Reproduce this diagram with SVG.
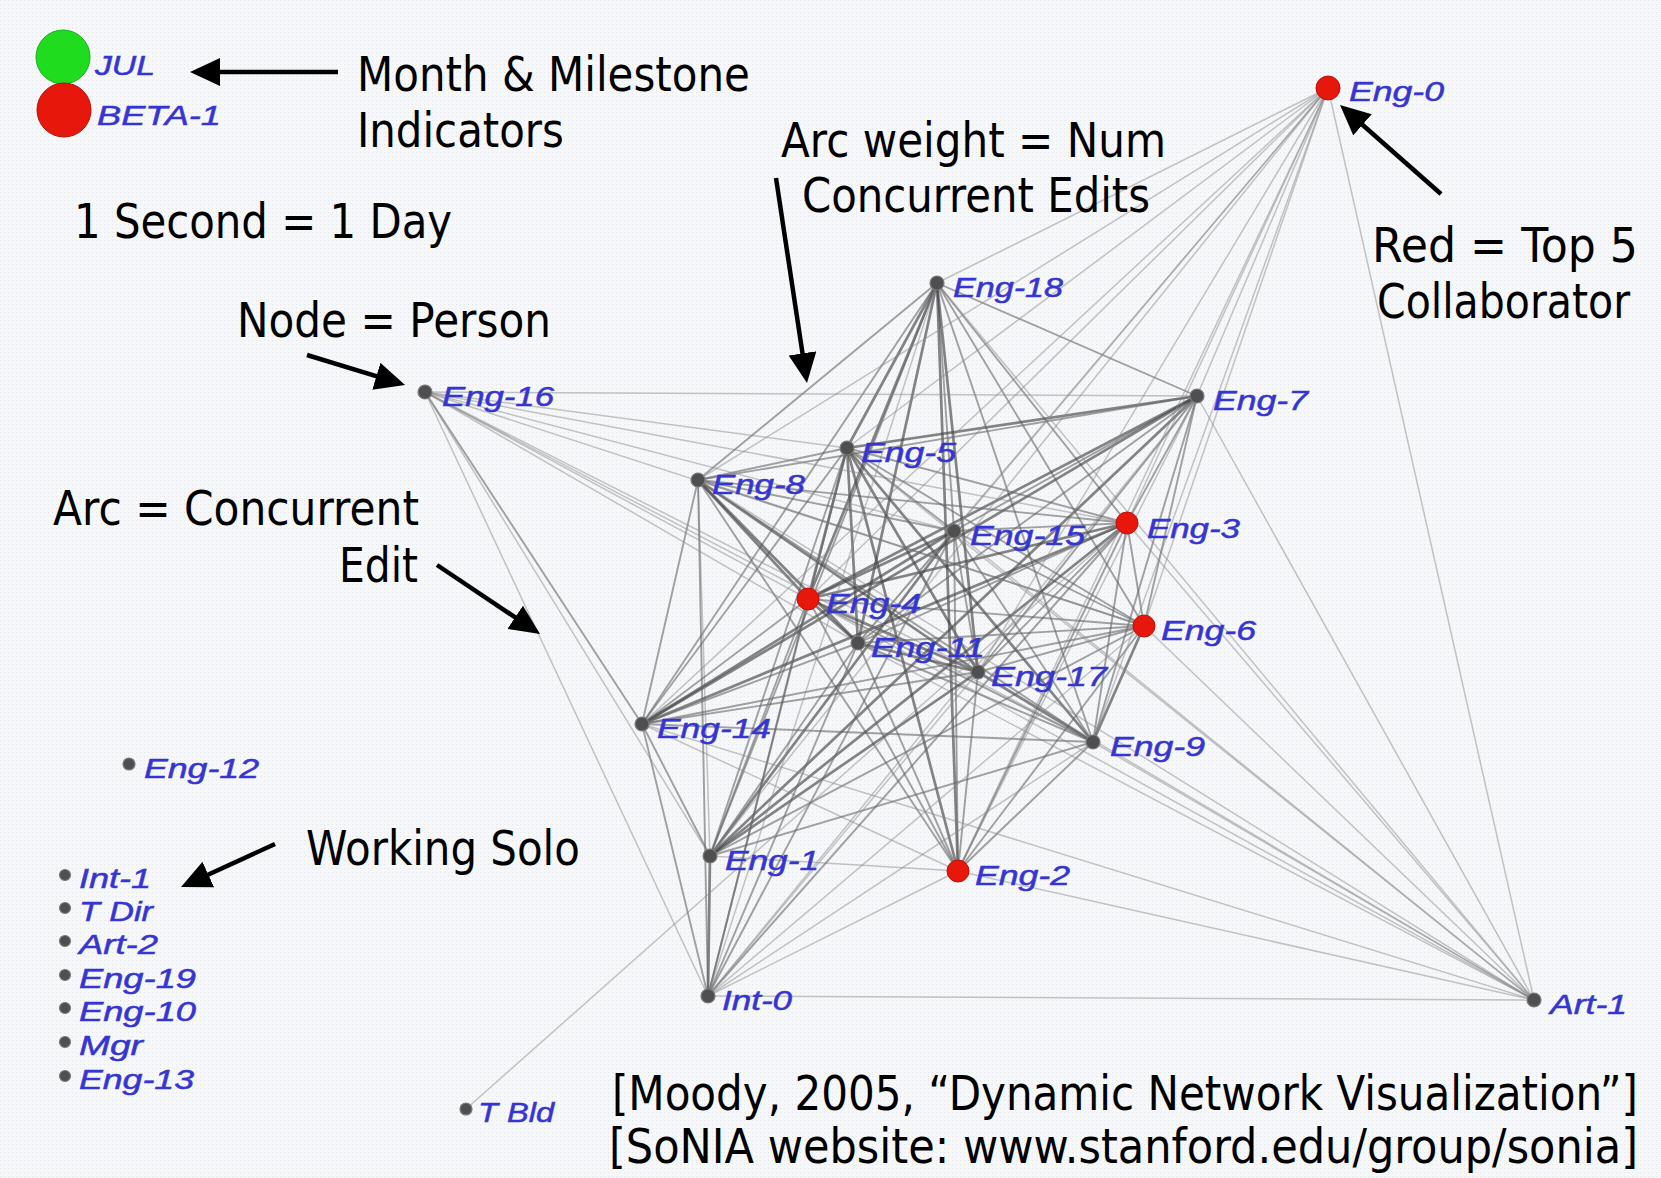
<svg xmlns="http://www.w3.org/2000/svg" width="1661" height="1178" viewBox="0 0 1661 1178">
<defs>
<style>
.m{stroke:#656565;stroke-width:1.9;stroke-opacity:.6;fill:none}
.h{stroke:#474747;stroke-width:2.7;stroke-opacity:.66;fill:none}
.l{stroke:#888;stroke-width:1.5;stroke-opacity:.48;fill:none}
.n{fill:#4f4f4f;stroke:#7a7a7a;stroke-width:1.2}
.r{fill:#e8170c;stroke:#c01008;stroke-width:1}
.lab{font-family:"Liberation Sans",Arial,sans-serif;font-style:italic;font-size:27px;fill:#3535d4;stroke:#3535d4;stroke-width:0.5}
.ann{font-family:"DejaVu Sans",Verdana,sans-serif;font-size:48px;fill:#000}
.arr{stroke:#000;stroke-width:4.5;fill:none;marker-end:url(#ah)}
</style>
<marker id="ah" viewBox="0 0 30 28" refX="22" refY="14" markerWidth="30" markerHeight="28" markerUnits="userSpaceOnUse" orient="auto">
<path d="M0,0 L30,14 L0,28 z" fill="#000"/>
</marker>
<pattern id="dots" width="4" height="4" patternUnits="userSpaceOnUse">
<rect width="4" height="4" fill="#f6f7f9"/>
<rect width="1" height="1" fill="#e3e5ea"/>
</pattern>
</defs>
<rect width="1661" height="1178" fill="url(#dots)"/>

<g id="connectors">
<line class="m" x1="937" y1="283" x2="1197" y2="396"/>
<line class="h" x1="937" y1="283" x2="847" y2="448"/>
<line class="m" x1="937" y1="283" x2="698" y2="480"/>
<line class="m" x1="937" y1="283" x2="954" y2="531"/>
<line class="m" x1="937" y1="283" x2="1127" y2="523"/>
<line class="h" x1="937" y1="283" x2="808" y2="599"/>
<line class="m" x1="937" y1="283" x2="1144" y2="626"/>
<line class="h" x1="937" y1="283" x2="858" y2="643"/>
<line class="h" x1="937" y1="283" x2="978" y2="672"/>
<line class="m" x1="937" y1="283" x2="642" y2="724"/>
<line class="m" x1="937" y1="283" x2="1093" y2="742"/>
<line class="m" x1="937" y1="283" x2="710" y2="856"/>
<line class="h" x1="937" y1="283" x2="958" y2="871"/>
<line class="h" x1="1197" y1="396" x2="847" y2="448"/>
<line class="m" x1="1197" y1="396" x2="698" y2="480"/>
<line class="m" x1="1197" y1="396" x2="954" y2="531"/>
<line class="m" x1="1197" y1="396" x2="1127" y2="523"/>
<line class="h" x1="1197" y1="396" x2="808" y2="599"/>
<line class="m" x1="1197" y1="396" x2="1144" y2="626"/>
<line class="m" x1="1197" y1="396" x2="858" y2="643"/>
<line class="m" x1="1197" y1="396" x2="978" y2="672"/>
<line class="h" x1="1197" y1="396" x2="642" y2="724"/>
<line class="m" x1="1197" y1="396" x2="1093" y2="742"/>
<line class="h" x1="1197" y1="396" x2="710" y2="856"/>
<line class="l" x1="1197" y1="396" x2="958" y2="871"/>
<line class="m" x1="847" y1="448" x2="698" y2="480"/>
<line class="m" x1="847" y1="448" x2="954" y2="531"/>
<line class="m" x1="847" y1="448" x2="1127" y2="523"/>
<line class="h" x1="847" y1="448" x2="808" y2="599"/>
<line class="m" x1="847" y1="448" x2="1144" y2="626"/>
<line class="h" x1="847" y1="448" x2="858" y2="643"/>
<line class="h" x1="847" y1="448" x2="978" y2="672"/>
<line class="m" x1="847" y1="448" x2="642" y2="724"/>
<line class="h" x1="847" y1="448" x2="1093" y2="742"/>
<line class="m" x1="847" y1="448" x2="710" y2="856"/>
<line class="h" x1="847" y1="448" x2="958" y2="871"/>
<line class="m" x1="698" y1="480" x2="954" y2="531"/>
<line class="m" x1="698" y1="480" x2="1127" y2="523"/>
<line class="h" x1="698" y1="480" x2="808" y2="599"/>
<line class="m" x1="698" y1="480" x2="1144" y2="626"/>
<line class="h" x1="698" y1="480" x2="858" y2="643"/>
<line class="h" x1="698" y1="480" x2="978" y2="672"/>
<line class="m" x1="698" y1="480" x2="642" y2="724"/>
<line class="m" x1="698" y1="480" x2="1093" y2="742"/>
<line class="l" x1="698" y1="480" x2="710" y2="856"/>
<line class="m" x1="698" y1="480" x2="958" y2="871"/>
<line class="m" x1="954" y1="531" x2="1127" y2="523"/>
<line class="h" x1="954" y1="531" x2="808" y2="599"/>
<line class="m" x1="954" y1="531" x2="1144" y2="626"/>
<line class="m" x1="954" y1="531" x2="858" y2="643"/>
<line class="m" x1="954" y1="531" x2="978" y2="672"/>
<line class="h" x1="954" y1="531" x2="642" y2="724"/>
<line class="m" x1="954" y1="531" x2="1093" y2="742"/>
<line class="h" x1="954" y1="531" x2="710" y2="856"/>
<line class="m" x1="954" y1="531" x2="958" y2="871"/>
<line class="h" x1="1127" y1="523" x2="808" y2="599"/>
<line class="m" x1="1127" y1="523" x2="1144" y2="626"/>
<line class="m" x1="1127" y1="523" x2="858" y2="643"/>
<line class="m" x1="1127" y1="523" x2="978" y2="672"/>
<line class="h" x1="1127" y1="523" x2="642" y2="724"/>
<line class="m" x1="1127" y1="523" x2="1093" y2="742"/>
<line class="h" x1="1127" y1="523" x2="710" y2="856"/>
<line class="m" x1="1127" y1="523" x2="958" y2="871"/>
<line class="m" x1="808" y1="599" x2="1144" y2="626"/>
<line class="h" x1="808" y1="599" x2="858" y2="643"/>
<line class="h" x1="808" y1="599" x2="978" y2="672"/>
<line class="m" x1="808" y1="599" x2="642" y2="724"/>
<line class="m" x1="808" y1="599" x2="1093" y2="742"/>
<line class="m" x1="808" y1="599" x2="710" y2="856"/>
<line class="m" x1="808" y1="599" x2="958" y2="871"/>
<line class="m" x1="1144" y1="626" x2="858" y2="643"/>
<line class="m" x1="1144" y1="626" x2="978" y2="672"/>
<line class="m" x1="1144" y1="626" x2="642" y2="724"/>
<line class="h" x1="1144" y1="626" x2="1093" y2="742"/>
<line class="m" x1="1144" y1="626" x2="710" y2="856"/>
<line class="m" x1="1144" y1="626" x2="958" y2="871"/>
<line class="h" x1="858" y1="643" x2="978" y2="672"/>
<line class="m" x1="858" y1="643" x2="642" y2="724"/>
<line class="m" x1="858" y1="643" x2="1093" y2="742"/>
<line class="m" x1="858" y1="643" x2="710" y2="856"/>
<line class="m" x1="858" y1="643" x2="958" y2="871"/>
<line class="m" x1="978" y1="672" x2="642" y2="724"/>
<line class="h" x1="978" y1="672" x2="1093" y2="742"/>
<line class="h" x1="978" y1="672" x2="710" y2="856"/>
<line class="m" x1="978" y1="672" x2="958" y2="871"/>
<line class="m" x1="642" y1="724" x2="1093" y2="742"/>
<line class="m" x1="642" y1="724" x2="710" y2="856"/>
<line class="l" x1="642" y1="724" x2="958" y2="871"/>
<line class="m" x1="1093" y1="742" x2="710" y2="856"/>
<line class="m" x1="1093" y1="742" x2="958" y2="871"/>
<line class="l" x1="710" y1="856" x2="958" y2="871"/>
<line class="m" x1="708" y1="996" x2="642" y2="724"/>
<line class="h" x1="708" y1="996" x2="710" y2="856"/>
<line class="m" x1="708" y1="996" x2="698" y2="480"/>
<line class="m" x1="708" y1="996" x2="847" y2="448"/>
<line class="m" x1="708" y1="996" x2="808" y2="599"/>
<line class="m" x1="708" y1="996" x2="858" y2="643"/>
<line class="l" x1="708" y1="996" x2="937" y2="283"/>
<line class="m" x1="708" y1="996" x2="954" y2="531"/>
<line class="m" x1="708" y1="996" x2="1127" y2="523"/>
<line class="l" x1="708" y1="996" x2="1197" y2="396"/>
<line class="l" x1="708" y1="996" x2="978" y2="672"/>
<line class="l" x1="708" y1="996" x2="1093" y2="742"/>
<line class="l" x1="708" y1="996" x2="1144" y2="626"/>
<line class="l" x1="708" y1="996" x2="958" y2="871"/>
<line class="l" x1="708" y1="996" x2="1534" y2="1000"/>
<line class="l" x1="1328" y1="88" x2="937" y2="283"/>
<line class="l" x1="1328" y1="88" x2="698" y2="480"/>
<line class="l" x1="1328" y1="88" x2="847" y2="448"/>
<line class="l" x1="1328" y1="88" x2="954" y2="531"/>
<line class="l" x1="1328" y1="88" x2="1127" y2="523"/>
<line class="l" x1="1328" y1="88" x2="1197" y2="396"/>
<line class="l" x1="1328" y1="88" x2="808" y2="599"/>
<line class="l" x1="1328" y1="88" x2="858" y2="643"/>
<line class="l" x1="1328" y1="88" x2="978" y2="672"/>
<line class="l" x1="1328" y1="88" x2="1144" y2="626"/>
<line class="l" x1="1328" y1="88" x2="1093" y2="742"/>
<line class="l" x1="1328" y1="88" x2="642" y2="724"/>
<line class="l" x1="1328" y1="88" x2="958" y2="871"/>
<line class="l" x1="1328" y1="88" x2="710" y2="856"/>
<line class="l" x1="1328" y1="88" x2="1534" y2="1000"/>
<line class="l" x1="425" y1="392" x2="847" y2="448"/>
<line class="l" x1="425" y1="392" x2="1197" y2="396"/>
<line class="l" x1="425" y1="392" x2="954" y2="531"/>
<line class="l" x1="425" y1="392" x2="1127" y2="523"/>
<line class="l" x1="425" y1="392" x2="1144" y2="626"/>
<line class="l" x1="425" y1="392" x2="808" y2="599"/>
<line class="l" x1="425" y1="392" x2="858" y2="643"/>
<line class="l" x1="425" y1="392" x2="978" y2="672"/>
<line class="l" x1="425" y1="392" x2="1093" y2="742"/>
<line class="m" x1="425" y1="392" x2="642" y2="724"/>
<line class="l" x1="425" y1="392" x2="710" y2="856"/>
<line class="l" x1="425" y1="392" x2="708" y2="996"/>
<line class="l" x1="1534" y1="1000" x2="1197" y2="396"/>
<line class="l" x1="1534" y1="1000" x2="1127" y2="523"/>
<line class="l" x1="1534" y1="1000" x2="1144" y2="626"/>
<line class="l" x1="1534" y1="1000" x2="1093" y2="742"/>
<line class="l" x1="1534" y1="1000" x2="978" y2="672"/>
<line class="l" x1="1534" y1="1000" x2="954" y2="531"/>
<line class="l" x1="1534" y1="1000" x2="858" y2="643"/>
<line class="l" x1="1534" y1="1000" x2="808" y2="599"/>
<line class="l" x1="1534" y1="1000" x2="642" y2="724"/>
<line class="l" x1="1534" y1="1000" x2="958" y2="871"/>
<line class="l" x1="1534" y1="1000" x2="698" y2="480"/>
<line class="l" x1="1534" y1="1000" x2="847" y2="448"/>
<line class="l" x1="1534" y1="1000" x2="937" y2="283"/>
<line class="l" x1="466" y1="1109" x2="1127" y2="523"/>
</g>

<g id="indicators">
<circle cx="63" cy="57" r="27" fill="#1fdc1f" stroke="#18b018" stroke-width="1"/>
<circle cx="64" cy="110" r="27" fill="#e8170c" stroke="#b81008" stroke-width="1"/>
<text class="lab" x="95" y="75" font-size="30" textLength="60" lengthAdjust="spacingAndGlyphs">JUL</text>
<text class="lab" x="97" y="125" font-size="30" textLength="124" lengthAdjust="spacingAndGlyphs">BETA-1</text>
</g>

<g id="eng-0"><circle class="r" cx="1328" cy="88" r="12"/><text class="lab" x="1349" y="101" textLength="95" lengthAdjust="spacingAndGlyphs">Eng-0</text></g>
<g id="eng-18"><circle class="n" cx="937" cy="283" r="7"/><text class="lab" x="953" y="297" textLength="110" lengthAdjust="spacingAndGlyphs">Eng-18</text></g>
<g id="eng-16"><circle class="n" cx="425" cy="392" r="7"/><text class="lab" x="442" y="406" textLength="112" lengthAdjust="spacingAndGlyphs">Eng-16</text></g>
<g id="eng-7"><circle class="n" cx="1197" cy="396" r="7"/><text class="lab" x="1213" y="410" textLength="95" lengthAdjust="spacingAndGlyphs">Eng-7</text></g>
<g id="eng-5"><circle class="n" cx="847" cy="448" r="7"/><text class="lab" x="861" y="462" textLength="95" lengthAdjust="spacingAndGlyphs">Eng-5</text></g>
<g id="eng-8"><circle class="n" cx="698" cy="480" r="7"/><text class="lab" x="712" y="494" textLength="93" lengthAdjust="spacingAndGlyphs">Eng-8</text></g>
<g id="eng-15"><circle class="n" cx="954" cy="531" r="7"/><text class="lab" x="970" y="545" textLength="115" lengthAdjust="spacingAndGlyphs">Eng-15</text></g>
<g id="eng-3"><circle class="r" cx="1127" cy="523" r="11"/><text class="lab" x="1147" y="538" textLength="93" lengthAdjust="spacingAndGlyphs">Eng-3</text></g>
<g id="eng-4"><circle class="r" cx="808" cy="599" r="11"/><text class="lab" x="826" y="613" textLength="95" lengthAdjust="spacingAndGlyphs">Eng-4</text></g>
<g id="eng-6"><circle class="r" cx="1144" cy="626" r="11"/><text class="lab" x="1161" y="640" textLength="95" lengthAdjust="spacingAndGlyphs">Eng-6</text></g>
<g id="eng-11"><circle class="n" cx="858" cy="643" r="7"/><text class="lab" x="871" y="657" textLength="114" lengthAdjust="spacingAndGlyphs">Eng-11</text></g>
<g id="eng-17"><circle class="n" cx="978" cy="672" r="7"/><text class="lab" x="991" y="686" textLength="116" lengthAdjust="spacingAndGlyphs">Eng-17</text></g>
<g id="eng-14"><circle class="n" cx="642" cy="724" r="7"/><text class="lab" x="657" y="738" textLength="114" lengthAdjust="spacingAndGlyphs">Eng-14</text></g>
<g id="eng-9"><circle class="n" cx="1093" cy="742" r="7"/><text class="lab" x="1110" y="756" textLength="95" lengthAdjust="spacingAndGlyphs">Eng-9</text></g>
<g id="eng-1"><circle class="n" cx="710" cy="856" r="7"/><text class="lab" x="725" y="870" textLength="94" lengthAdjust="spacingAndGlyphs">Eng-1</text></g>
<g id="eng-2"><circle class="r" cx="958" cy="871" r="11"/><text class="lab" x="975" y="885" textLength="95" lengthAdjust="spacingAndGlyphs">Eng-2</text></g>
<g id="int-0"><circle class="n" cx="708" cy="996" r="7"/><text class="lab" x="722" y="1010" textLength="70" lengthAdjust="spacingAndGlyphs">Int-0</text></g>
<g id="art-1"><circle class="n" cx="1534" cy="1000" r="7"/><text class="lab" x="1550" y="1014" textLength="77" lengthAdjust="spacingAndGlyphs">Art-1</text></g>
<g id="t-bld"><circle class="n" cx="466" cy="1109" r="6"/><text class="lab" x="478" y="1122" textLength="76" lengthAdjust="spacingAndGlyphs">T Bld</text></g>
<g id="eng-12"><circle class="n" cx="129" cy="764" r="6"/><text class="lab" x="144" y="778" textLength="115" lengthAdjust="spacingAndGlyphs">Eng-12</text></g>
<g id="int-1"><circle class="n" cx="65" cy="875" r="5.5"/><text class="lab" x="79" y="888" textLength="72" lengthAdjust="spacingAndGlyphs">Int-1</text></g>
<g id="t-dir"><circle class="n" cx="65" cy="908" r="5.5"/><text class="lab" x="79" y="921" textLength="74" lengthAdjust="spacingAndGlyphs">T Dir</text></g>
<g id="art-2"><circle class="n" cx="65" cy="941" r="5.5"/><text class="lab" x="79" y="954" textLength="79" lengthAdjust="spacingAndGlyphs">Art-2</text></g>
<g id="eng-19"><circle class="n" cx="65" cy="975" r="5.5"/><text class="lab" x="79" y="988" textLength="117" lengthAdjust="spacingAndGlyphs">Eng-19</text></g>
<g id="eng-10"><circle class="n" cx="65" cy="1008" r="5.5"/><text class="lab" x="79" y="1021" textLength="117" lengthAdjust="spacingAndGlyphs">Eng-10</text></g>
<g id="mgr"><circle class="n" cx="65" cy="1042" r="5.5"/><text class="lab" x="79" y="1055" textLength="64" lengthAdjust="spacingAndGlyphs">Mgr</text></g>
<g id="eng-13"><circle class="n" cx="65" cy="1076" r="5.5"/><text class="lab" x="79" y="1089" textLength="115" lengthAdjust="spacingAndGlyphs">Eng-13</text></g>

<g id="annotations" transform="scale(0.87 1)">
<text class="ann" x="410.3" y="91" textLength="451.7" lengthAdjust="spacingAndGlyphs">Month &amp; Milestone</text>
<text class="ann" x="410.3" y="147" textLength="237.9" lengthAdjust="spacingAndGlyphs">Indicators</text>
<text class="ann" x="85.1" y="238" textLength="434.5" lengthAdjust="spacingAndGlyphs">1 Second = 1 Day</text>
<text class="ann" x="272.4" y="337" textLength="360.9" lengthAdjust="spacingAndGlyphs">Node = Person</text>
<text class="ann" x="897.7" y="157" textLength="442.5" lengthAdjust="spacingAndGlyphs">Arc weight = Num</text>
<text class="ann" x="921.8" y="212" textLength="400" lengthAdjust="spacingAndGlyphs">Concurrent Edits</text>
<text class="ann" x="1577" y="262" textLength="305.7" lengthAdjust="spacingAndGlyphs">Red = Top 5</text>
<text class="ann" x="1582.8" y="318" textLength="290.8" lengthAdjust="spacingAndGlyphs">Collaborator</text>
<text class="ann" x="60.9" y="525" textLength="420.7" lengthAdjust="spacingAndGlyphs">Arc = Concurrent</text>
<text class="ann" x="389.7" y="582" textLength="90.8" lengthAdjust="spacingAndGlyphs">Edit</text>
<text class="ann" x="351.7" y="865" textLength="314.9" lengthAdjust="spacingAndGlyphs">Working Solo</text>
<text class="ann" x="703.4" y="1110" textLength="1179.3" lengthAdjust="spacingAndGlyphs">[Moody, 2005, “Dynamic Network Visualization”]</text>
<text class="ann" x="700" y="1163" textLength="1182.8" lengthAdjust="spacingAndGlyphs">[SoNIA website: www.stanford.edu/group/sonia]</text>
</g>

<g id="annotation-arrows">
<line class="arr" x1="338" y1="72" x2="198" y2="72"/>
<line class="arr" x1="776" y1="178" x2="805.8" y2="375.1"/>
<line class="arr" x1="1441" y1="194" x2="1346" y2="110.3"/>
<line class="arr" x1="307" y1="355" x2="397.4" y2="382.7"/>
<line class="arr" x1="437" y1="565" x2="533.4" y2="629.6"/>
<line class="arr" x1="275" y1="844" x2="188.3" y2="883.7"/>
</g>
</svg>
